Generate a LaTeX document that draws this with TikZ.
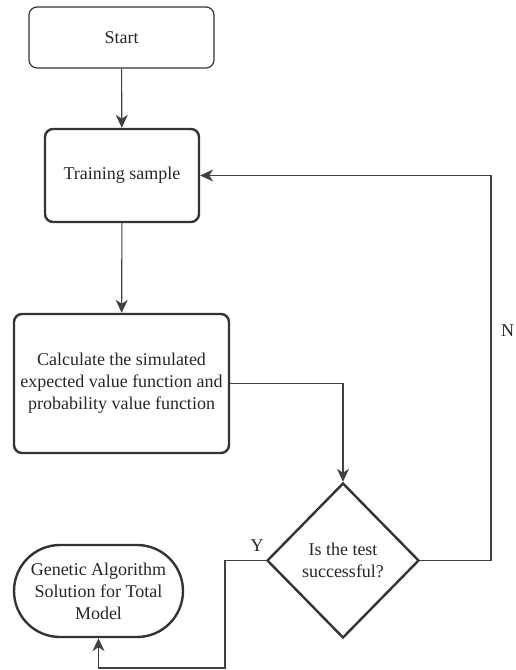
\documentclass[tikz,border=0pt]{standalone}
\usepackage{fontspec}
\setmainfont{Liberation Serif}
\usetikzlibrary{arrows.meta,shapes.geometric,shapes.misc}

\tikzset{
  base/.style={draw=black!80, text=black!85, align=center,
    font=\fontsize{18}{22}\selectfont, inner sep=0pt},
  startbox/.style={base, rectangle, rounded corners=8pt, line width=1.2pt,
    minimum width=185pt, minimum height=61pt},
  procbox/.style={base, rectangle, rounded corners=8pt, line width=2.4pt},
  testbox/.style={base, diamond, line width=2.4pt,
    minimum width=152pt, minimum height=155pt},
  endbox/.style={base, rounded rectangle, line width=2.4pt,
    minimum width=169pt, minimum height=92pt},
  arr/.style={draw=black!75, line width=1.1pt,
    -{Stealth[length=13pt,width=12pt,inset=4pt]}},
  lbl/.style={text=black!85, font=\fontsize{18}{22}\selectfont, inner sep=0pt},
}

\begin{document}
\begin{tikzpicture}[x=1pt,y=-1pt]
  \clip (0,0) rectangle (516,670);

  % Kaesten
  \node[startbox] (start) at (121.5,37.5) {Start};
  \node[procbox, minimum width=154pt, minimum height=93pt] (train) at (122,175.5) {Training sample};
  \node[procbox, minimum width=215pt, minimum height=139pt] (calc) at (121.5,383.5)
    {Calculate the simulated\\expected value function and\\probability value function};
  \node[testbox] (test) at (343,560.5) {Is the test\\successful?};
  \node[endbox] (goal) at (98.5,591) {Genetic Algorithm\\Solution for Total\\Model};

  % Knickpunkte
  \coordinate (nturn) at (491,560.5);
  \coordinate (yturn) at (225,668);

  % Verbindungen
  \draw[arr] (start) -- (train);
  \draw[arr] (train) -- (calc);
  \draw[arr] (calc.east) -| (test.north);
  \draw[arr] (test.east) -- (nturn) |- (train.east);
  \draw[arr] (test.west) -| (yturn) -| (goal.south);

  % Beschriftungen
  \node[lbl] (ylab) at (257,546) {Y};
  \node[lbl, anchor=west] (nlab) at (501,331) {N};
\end{tikzpicture}
\end{document}
